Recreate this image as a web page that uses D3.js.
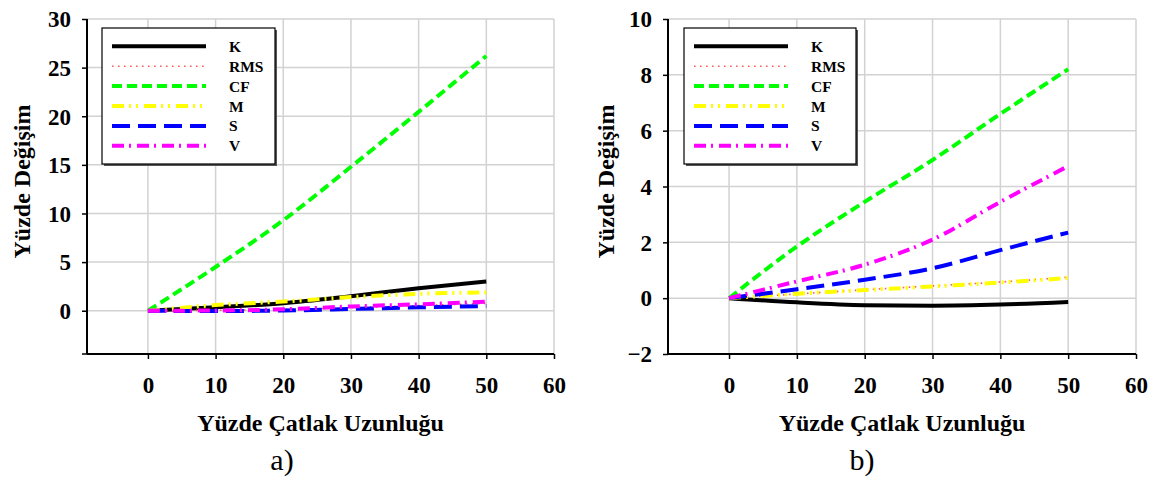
<!DOCTYPE html>
<html><head><meta charset="utf-8">
<script src="https://cdn.jsdelivr.net/npm/d3@7"></script>
<style>
body{margin:0;background:#fff;}
svg{display:block;font-family:"Liberation Serif","Times New Roman",serif;}
</style>
</head><body>
<svg id="c" width="1176" height="478"></svg>
<script>
// ---------- DATA ----------
const xValues = [0, 10, 20, 30, 40, 50];
const seriesNames = ["K", "RMS", "CF", "M", "S", "V"];

// panel a)
const aK   = [0, 0.35, 0.78, 1.50, 2.30, 3.00];
const aRMS = [0, 0.05, 0.14, 0.32, 0.52, 0.76];
const aCF  = [0, 4.50, 9.30, 14.80, 20.45, 26.20];
const aM   = [0, 0.58, 0.95, 1.40, 1.74, 1.88];
const aS   = [0, -0.03, 0.02, 0.18, 0.35, 0.48];
const aV   = [0, 0.02, 0.15, 0.44, 0.66, 0.93];

// panel b)
const bK   = [0, -0.15, -0.25, -0.27, -0.23, -0.14];
const bRMS = [0, 0.15, 0.30, 0.44, 0.58, 0.75];
const bCF  = [0, 1.85, 3.45, 4.95, 6.60, 8.20];
const bM   = [0, 0.16, 0.29, 0.42, 0.56, 0.72];
const bS   = [0, 0.32, 0.66, 1.07, 1.72, 2.35];
const bV   = [0, 0.60, 1.20, 2.10, 3.45, 4.73];

const xTicks  = [0, 10, 20, 30, 40, 50, 60];
const yTicksA = [0, 5, 10, 15, 20, 25, 30];
const yTicksB = [-2, 0, 2, 4, 6, 8, 10];
const xDomain = [-9, 60];
const yDomainA = [-4.45, 30];
const yDomainB = [-2, 10];

const xTitle = "Yüzde Çatlak Uzunluğu";
const yTitle = "Yüzde Değişim";
const captions = ["a)", "b)"];

// ---------- STYLES ----------
const styles = {
  K:   {color: "#000000", width: 4,   dash: null},
  RMS: {color: "#ff5a5a", width: 1.6, dash: "1.6,4.4"},
  CF:  {color: "#00ff00", width: 4,   dash: "10,5"},
  M:   {color: "#ffff00", width: 4,   dash: "12,5,2,5,2,6"},
  S:   {color: "#0000ff", width: 4,   dash: "18,8"},
  V:   {color: "#ff00ff", width: 4,   dash: "12,5,2,6"}
};

const svg = d3.select("#c");

const panels = [
  {left: 87, right: 554, top: 19, bottom: 354, yDomain: yDomainA, yTicks: yTicksA,
   labelBottomTick: false,
   data: {K: aK, RMS: aRMS, CF: aCF, M: aM, S: aS, V: aV},
   legend: {x0: 102, x1: 275, y0: 28, y1: 164},
   yTitleX: 22, caption: captions[0], captionX: 282},
  {left: 668, right: 1136, top: 19, bottom: 354, yDomain: yDomainB, yTicks: yTicksB,
   labelBottomTick: true,
   data: {K: bK, RMS: bRMS, CF: bCF, M: bM, S: bS, V: bV},
   legend: {x0: 684, x1: 856, y0: 28, y1: 164},
   yTitleX: 606, caption: captions[1], captionX: 862}
];

panels.forEach(p => {
  const g = svg.append("g");
  const x = d3.scaleLinear().domain(xDomain).range([p.left, p.right]);
  const y = d3.scaleLinear().domain(p.yDomain).range([p.bottom, p.top]);

  // gridlines
  g.append("g").selectAll("line").data(xTicks).join("line")
    .attr("x1", d => x(d)).attr("x2", d => x(d))
    .attr("y1", p.top).attr("y2", p.bottom)
    .attr("stroke", "#d2d2d2").attr("stroke-width", 1.5);
  g.append("g").selectAll("line").data(p.yTicks).join("line")
    .attr("x1", p.left).attr("x2", p.right)
    .attr("y1", d => y(d)).attr("y2", d => y(d))
    .attr("stroke", "#d2d2d2").attr("stroke-width", 1.5);

  // axes
  const xAxis = d3.axisBottom(x).tickValues(xTicks).tickSize(5).tickFormat(d3.format("d"));
  const xa = g.append("g").attr("transform", `translate(0,${p.bottom})`).call(xAxis);
  xa.select(".domain").attr("stroke", "#000").attr("stroke-width", 2)
    .attr("d", `M${p.left},0H${p.right}`);
  xa.selectAll(".tick line").attr("stroke", "#000").attr("stroke-width", 1.5);
  xa.selectAll(".tick text").attr("y", 0).attr("dy", "0").attr("transform", "translate(0,39)")
    .attr("font-size", 23).attr("font-weight", "bold")
    .attr("font-family", "Liberation Serif, Times New Roman, serif").attr("fill", "#000");

  const yAxis = d3.axisLeft(y).tickValues(p.yTicks).tickSize(5).tickFormat(d3.format("d"));
  const ya = g.append("g").attr("transform", `translate(${p.left},0)`).call(yAxis);
  ya.select(".domain").attr("stroke", "#000").attr("stroke-width", 2)
    .attr("d", `M0,${p.top}V${p.bottom}`);
  ya.selectAll(".tick line").attr("stroke", "#000").attr("stroke-width", 1.5);
  ya.selectAll(".tick text").attr("x", -16).attr("dy", "0.34em")
    .attr("font-size", 23).attr("font-weight", "bold")
    .attr("font-family", "Liberation Serif, Times New Roman, serif").attr("fill", "#000");
  if (!p.labelBottomTick) {
    ya.append("line").attr("x1", -5).attr("x2", 0).attr("y1", p.bottom).attr("y2", p.bottom)
      .attr("stroke", "#000").attr("stroke-width", 1.5);
  }

  // series
  const line = d3.line().x((d, i) => x(xValues[i])).y(d => y(d)).curve(d3.curveMonotoneX);
  seriesNames.forEach(name => {
    const s = styles[name];
    g.append("path").datum(p.data[name]).attr("d", line)
      .attr("fill", "none").attr("stroke", s.color).attr("stroke-width", s.width)
      .attr("stroke-dasharray", s.dash).attr("stroke-linejoin", "round");
  });

  // legend
  const L = p.legend;
  g.append("rect").attr("x", L.x0 + 2).attr("y", L.y0 + 2)
    .attr("width", L.x1 - L.x0).attr("height", L.y1 - L.y0).attr("fill", "#555");
  g.append("rect").attr("x", L.x0).attr("y", L.y0)
    .attr("width", L.x1 - L.x0).attr("height", L.y1 - L.y0)
    .attr("fill", "#fff").attr("stroke", "#000").attr("stroke-width", 1.2);
  seriesNames.forEach((name, i) => {
    const s = styles[name];
    const ly = L.y0 + 18.3 + i * 19.9;
    g.append("line").attr("x1", L.x0 + 10).attr("x2", L.x0 + 104)
      .attr("y1", ly).attr("y2", ly)
      .attr("stroke", s.color).attr("stroke-width", s.width).attr("stroke-dasharray", s.dash);
    g.append("text").attr("x", L.x0 + 127).attr("y", ly + 5.5)
      .attr("font-size", 15.5).attr("font-weight", "bold").text(name);
  });

  // titles
  g.append("text").attr("x", (p.left + p.right) / 2).attr("y", 431)
    .attr("text-anchor", "middle").attr("font-size", 24).attr("font-weight", "bold")
    .text(xTitle);
  g.append("text").attr("transform", `translate(${p.yTitleX + 8},${(p.top + p.bottom) / 2 - 5}) rotate(-90)`)
    .attr("text-anchor", "middle").attr("font-size", 24).attr("font-weight", "bold")
    .text(yTitle);
  g.append("text").attr("x", p.captionX).attr("y", 470)
    .attr("text-anchor", "middle").attr("font-size", 30).text(p.caption);
});
</script>
</body></html>
